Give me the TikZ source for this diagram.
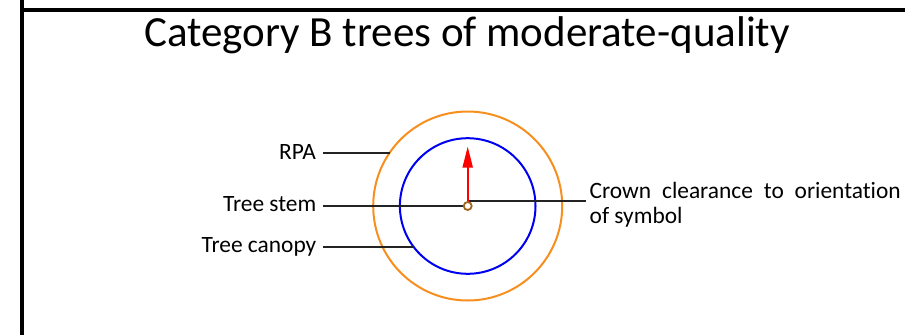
\documentclass[tikz,border=0pt]{standalone}
\usepackage{fontspec}
\setmainfont{Carlito}[RawFeature=-liga]
\usetikzlibrary{arrows.meta}
\definecolor{rpaorange}{RGB}{247,143,30}
\definecolor{canopyblue}{RGB}{0,0,240}
\definecolor{stembrown}{RGB}{160,100,30}
\definecolor{leadgray}{RGB}{35,35,35}
\tikzset{
  lab/.style={inner sep=0pt, font=\fontsize{23.4}{25}\selectfont},
  leader/.style={draw=leadgray, line width=2pt},
  frame/.style={draw=black, line width=4pt},
}
\begin{document}
\begin{tikzpicture}[x=1pt,y=-1pt]
\useasboundingbox (0,0) rectangle (905,335);
% frame
\draw[frame] (22,0) -- (22,335);
\draw[frame] (20,10) -- (905,10);
% title
\node[inner sep=0pt, anchor=base, font=\fontsize{43}{50}\selectfont] (title) at (467,46) {Category B trees of moderate-quality};
% centre
\coordinate (c) at (467.7,206);
\draw[rpaorange, line width=2pt] (c) circle (94.5);
\draw[canopyblue, line width=2pt] (c) circle (67.8);
% labels
\node[lab, anchor=base east] (rpa) at (316,159) {RPA};
\node[lab, anchor=base east] (stem) at (316.5,211) {Tree stem};
\node[lab, anchor=base east] (canopy) at (316.5,252) {Tree canopy};
\node[lab, anchor=base west, text width=311pt, align=justify] (crown) at (589.5,198.7)
      {\hyphenpenalty10000\exhyphenpenalty10000 Crown clearance to orientation of symbol};
% leader coordinates
\coordinate (rpaL) at (323,153.3);
\coordinate (rpaR) at (389.6,153.3);
\coordinate (stemL) at (323,206);
\coordinate (canL) at (323,247.3);
\coordinate (canR) at (414.2,247.3);
\coordinate (crL) at (467.7,201);
\coordinate (crR) at (585.5,201);
\draw[leader] (rpaL) -- (rpaR);
\draw[leader] (stemL) -- (c);
\draw[leader] (canL) -- (canR);
\draw[leader] (crL) -- (crR);
% orientation arrow
\coordinate (tip) at (467.7,146.5);
\draw[red, line width=2pt, -{Triangle[length=21pt,width=10pt]}] (c) -- (tip);
% stem symbol
\draw[stembrown, line width=1.8pt, fill=white] (c) circle (4);
\end{tikzpicture}
\end{document}
